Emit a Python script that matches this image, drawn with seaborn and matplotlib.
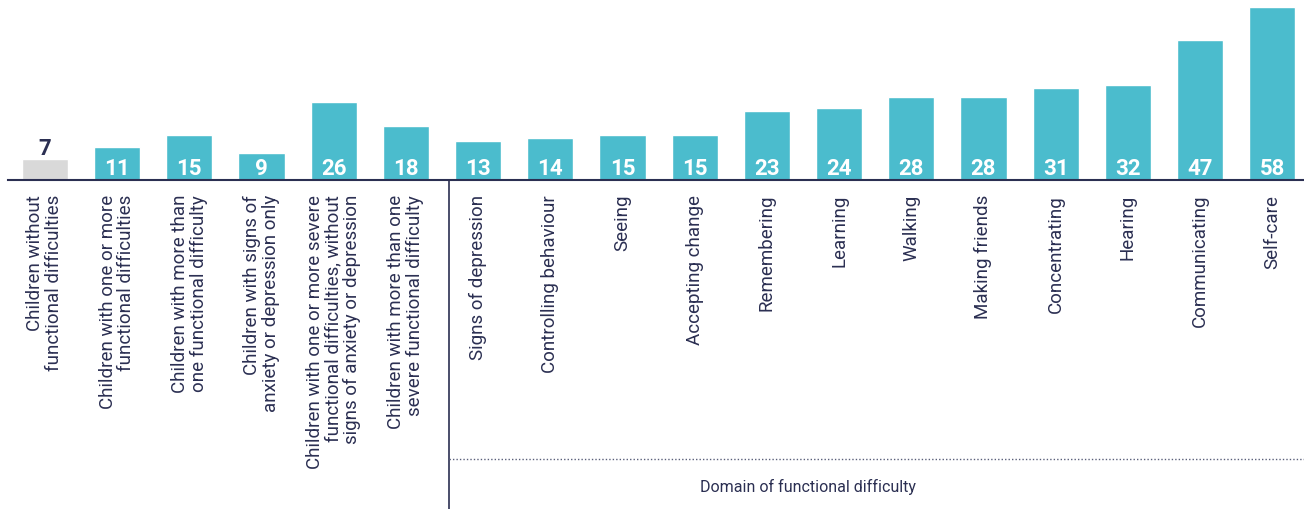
import matplotlib
matplotlib.use("Agg")
import matplotlib.pyplot as plt
import matplotlib.transforms as mtransforms
import seaborn as sns

# Share of children (%) by difficulty group and by domain of functional difficulty
categories = [
    "Children without\nfunctional difficulties",
    "Children with one or more\nfunctional difficulties",
    "Children with more than\none functional difficulty",
    "Children with signs of\nanxiety or depression only",
    "Children with one or more severe\nfunctional difficulties, without\nsigns of anxiety or depression",
    "Children with more than one\nsevere functional difficulty",
    "Signs of depression",
    "Controlling behaviour",
    "Seeing",
    "Accepting change",
    "Remembering",
    "Learning",
    "Walking",
    "Making friends",
    "Concentrating",
    "Hearing",
    "Communicating",
    "Self-care",
]
values = [7, 11, 15, 9, 26, 18, 13, 14, 15, 15, 23, 24, 28, 28, 31, 32, 47, 58]
group_title = "Domain of functional difficulty"
n_groups_left = 6

TEAL = "#4bbccd"
GREY = "#d9d9d9"
NAVY = "#2b2f52"

sns.set_theme(style="white")
plt.rcParams["font.family"] = ["Roboto", "DejaVu Sans"]

fig = plt.figure(figsize=(13.04, 5.10), dpi=100)
ax = fig.add_axes([8 / 1304, 1 - 181 / 510, 1296 / 1304, 181 / 510])

colors = [GREY] + [TEAL] * (len(values) - 1)
sns.barplot(x=categories, y=values, hue=categories, palette=colors,
            order=categories, hue_order=categories, legend=False,
            width=0.64, ax=ax, saturation=1)

ax.set_xlim(-0.51, len(values) - 1 + 0.44)
ax.set_ylim(0, 60.7)

# value labels: above the grey reference bar, inside the base of the others
for i, v in enumerate(values):
    if i == 0:
        ax.annotate(str(v), (i, v), xytext=(0, 0), textcoords="offset points",
                    ha="center", va="bottom", color=NAVY, fontsize=16,
                    fontweight="bold")
    else:
        ax.annotate(str(v), (i, 0), xytext=(0, 1), textcoords="offset points",
                    ha="center", va="bottom", color="white", fontsize=16,
                    fontweight="bold")

for s in ["top", "right", "left"]:
    ax.spines[s].set_visible(False)
ax.spines["bottom"].set_color(NAVY)
ax.spines["bottom"].set_linewidth(1.5)
ax.set_yticks([])
ax.set_ylabel("")
ax.set_xlabel("")
ax.set_xticks(range(len(categories)))
ax.set_xticklabels(categories, rotation=90, ha="center", va="top",
                   multialignment="right", color=NAVY, fontsize=13.5,
                   linespacing=1.05)
ax.tick_params(axis="x", length=0, pad=10)

# divider between summary groups and domains
trans = mtransforms.blended_transform_factory(ax.transData, fig.transFigure)
split = n_groups_left - 0.4
ax.plot([split, split], [1 - 181 / 510, 0], transform=trans, color=NAVY,
        lw=1.2, clip_on=False)
ax.plot([split, len(values) - 1 + 0.44], [1 - 460 / 510] * 2, transform=trans,
        color="#5a5f7a", lw=1, ls=(0, (1, 1.5)), clip_on=False)
fig.text(808 / 1304, 1 - 487 / 510, group_title, ha="center", va="center",
         color=NAVY, fontsize=11.5)

fig.savefig("out.png", dpi=100)
